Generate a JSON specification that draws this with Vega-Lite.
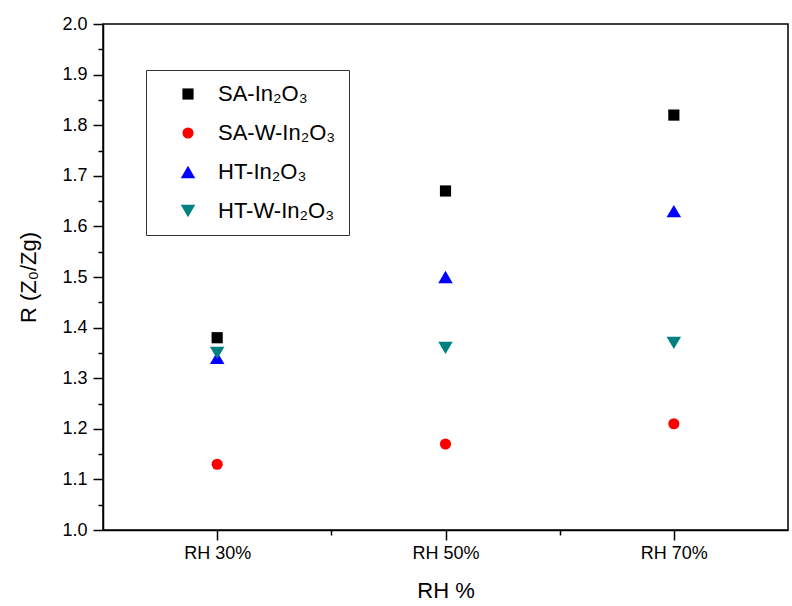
{
  "$schema": "https://vega.github.io/schema/vega-lite/v6.json",
  "background": "#FFFFFF",
  "autosize": {"type": "none"},
  "padding": {"left": 103, "top": 24, "right": 4, "bottom": 76},
  "width": 685,
  "height": 506,
  "data": {
    "values": [
      {"RH": 30, "R": 1.38, "Sample": "SA-In₂O₃"},
      {"RH": 50, "R": 1.67, "Sample": "SA-In₂O₃"},
      {"RH": 70, "R": 1.82, "Sample": "SA-In₂O₃"},
      {"RH": 30, "R": 1.13, "Sample": "SA-W-In₂O₃"},
      {"RH": 50, "R": 1.17, "Sample": "SA-W-In₂O₃"},
      {"RH": 70, "R": 1.21, "Sample": "SA-W-In₂O₃"},
      {"RH": 30, "R": 1.34, "Sample": "HT-In₂O₃"},
      {"RH": 50, "R": 1.50, "Sample": "HT-In₂O₃"},
      {"RH": 70, "R": 1.63, "Sample": "HT-In₂O₃"},
      {"RH": 30, "R": 1.35, "Sample": "HT-W-In₂O₃"},
      {"RH": 50, "R": 1.36, "Sample": "HT-W-In₂O₃"},
      {"RH": 70, "R": 1.37, "Sample": "HT-W-In₂O₃"}
    ]
  },
  "layer": [
    {
      "mark": {"type": "point", "filled": true, "opacity": 1, "size": 125, "strokeWidth": 0},
      "encoding": {
        "x": {
          "field": "RH",
          "type": "quantitative",
          "scale": {"domain": [20, 80], "nice": false, "zero": false},
          "axis": {
            "title": "RH %",
            "values": [30, 50, 70],
            "labelExpr": "'RH ' + datum.value + '%'",
            "grid": false,
            "tickSize": 10,
            "titlePadding": 18
          }
        },
        "y": {
          "field": "R",
          "type": "quantitative",
          "scale": {"domain": [1.0, 2.0], "nice": false, "zero": false},
          "axis": {
            "title": "R (Z₀/Zg)",
            "values": [1.0, 1.1, 1.2, 1.3, 1.4, 1.5, 1.6, 1.7, 1.8, 1.9, 2.0],
            "format": ".1f",
            "grid": false,
            "tickSize": 10,
            "labelPadding": 6,
            "titlePadding": 21
          }
        },
        "color": {
          "field": "Sample",
          "type": "nominal",
          "scale": {
            "domain": ["SA-In₂O₃", "SA-W-In₂O₃", "HT-In₂O₃", "HT-W-In₂O₃"],
            "range": ["#000000", "#FF0000", "#0000FF", "#008080"]
          },
          "legend": {
            "title": null,
            "orient": "none",
            "legendX": 43,
            "legendY": 46,
            "padding": 13,
            "strokeColor": "#333333",
            "symbolOffset": 18,
            "labelOffset": 19,
            "rowPadding": 17,
            "symbolSize": 125,
            "symbolStrokeWidth": 0,
            "labelFontSize": 22,
            "labelColor": "#000000"
          }
        },
        "shape": {
          "field": "Sample",
          "type": "nominal",
          "scale": {
            "domain": ["SA-In₂O₃", "SA-W-In₂O₃", "HT-In₂O₃", "HT-W-In₂O₃"],
            "range": ["square", "circle", "M0,-1.1L1.3,1.1L-1.3,1.1Z", "M0,1.1L1.3,-1.1L-1.3,-1.1Z"]
          }
        }
      }
    },
    {
      "mark": {"type": "point", "opacity": 0},
      "encoding": {
        "x": {
          "field": "RH",
          "type": "quantitative",
          "scale": {"domain": [20, 80], "nice": false, "zero": false},
          "axis": {
            "orient": "bottom",
            "title": null,
            "values": [40, 60],
            "labels": false,
            "domain": false,
            "grid": false,
            "tickSize": 5
          }
        },
        "y": {
          "field": "R",
          "type": "quantitative",
          "scale": {"domain": [1.0, 2.0], "nice": false, "zero": false},
          "axis": {
            "orient": "left",
            "title": null,
            "values": [1.05, 1.15, 1.25, 1.35, 1.45, 1.55, 1.65, 1.75, 1.85, 1.95],
            "labels": false,
            "domain": false,
            "grid": false,
            "tickSize": 5
          }
        }
      }
    }
  ],
  "resolve": {"axis": {"x": "independent", "y": "independent"}},
  "config": {
    "font": "Liberation Sans",
    "view": {"stroke": "#000000", "strokeWidth": 1.5},
    "axis": {
      "domainColor": "#000000",
      "domainWidth": 1.5,
      "tickColor": "#000000",
      "tickWidth": 1.5,
      "labelColor": "#000000",
      "labelFontSize": 18,
      "labelPadding": 4,
      "titleColor": "#000000",
      "titleFontSize": 22,
      "titleFontWeight": "normal"
    }
  }
}
